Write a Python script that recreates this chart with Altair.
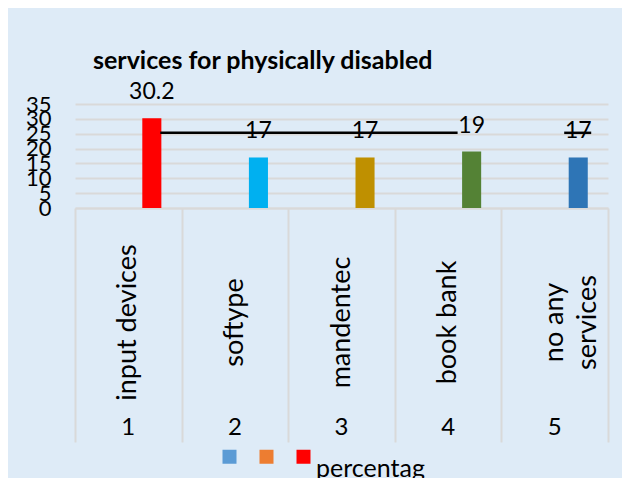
import json
import textwrap
import altair as alt
import pandas as pd

# ---- data ----
title_text = "services for physically disabled"
idx = ["1", "2", "3", "4", "5"]
names = ["input devices", "softype", "mandentec", "book bank", "no any services"]
values = [30.2, 17, 17, 19, 17]
bar_colors = ["#FF0000", "#00B0F0", "#BF9000", "#548235", "#2E75B6"]
series = ["Series1", "Series2", "percentag"]
series_colors = ["#5B9BD5", "#ED7D31", "#FF0000"]
y_ticks = [0, 5, 10, 15, 20, 25, 30, 35]
line_level = 25.3
seg1_from, seg1_to = ["1"], ["4"]
seg2_from, seg2_to = ["5"], ["5"]

FONT = "Lato"
GRID = "#D9D9D9"
BG = "#DEEBF7"

label_lines = [textwrap.wrap(n, 13) for n in names]
name_expr = f"{json.dumps(label_lines)}[indexof({json.dumps(idx)}, datum.value)]"

df = pd.DataFrame({"idx": idx, "name": names, "value": values, "series": series[-1]})
seg1 = pd.DataFrame({"a": seg1_from, "b": seg1_to, "v": [line_level]})
seg2 = pd.DataFrame({"a": seg2_from, "b": seg2_to, "v": [line_level]})
leg_df = pd.DataFrame({"series": series})

xscale = alt.Scale(domain=idx, paddingInner=0, paddingOuter=0)
yscale = alt.Scale(domain=[y_ticks[0], y_ticks[-1]], nice=False, zero=True)
xoff = alt.XOffset("series:N", scale=alt.Scale(domain=series, paddingInner=0.19, paddingOuter=0.86))

name_axis = alt.Axis(
    title=None, orient="bottom", labelAngle=270, labelAlign="center", labelBaseline="middle",
    labelPadding=114, labelExpr=name_expr, labelFont=FONT, labelFontSize=27, labelColor="black",
    labelLineHeight=33, ticks=False, domain=False, grid=False, labelOverlap=False, labelLimit=400,
)
num_axis = alt.Axis(
    title=None, orient="bottom", labelAngle=0, labelAlign="center", labelBaseline="top",
    labelPadding=207, labelFont=FONT, labelFontSize=24, labelColor="black",
    ticks=False, domain=False, grid=False, labelOverlap=False,
)
div_axis = alt.Axis(
    title=None, orient="bottom", labels=False, ticks=True, tickBand="extent", tickSize=234,
    tickColor=GRID, tickWidth=2, domain=True, domainColor=GRID, domainWidth=2, grid=False,
)
y_axis = alt.Axis(
    title=None, values=y_ticks, grid=True, gridColor=GRID, gridWidth=2,
    domain=False, ticks=False, labelPadding=24, labelFont=FONT, labelFontSize=22,
    labelColor="black", labelOverlap=False, labelFlush=False,
)

Y = lambda f: alt.Y(f, scale=yscale, axis=y_axis)

bars = alt.Chart(df).mark_bar().encode(
    x=alt.X("idx:N", scale=xscale, axis=name_axis, sort=idx),
    xOffset=xoff,
    y=Y("value:Q"),
    color=alt.Color("idx:N", scale=alt.Scale(domain=idx, range=bar_colors), legend=None),
)

labels = alt.Chart(df).mark_text(
    dy=-26, baseline="middle", font=FONT, fontSize=23, color="black"
).encode(
    x=alt.X("idx:N", scale=xscale, axis=num_axis, sort=idx),
    xOffset=xoff,
    y=Y("value:Q"),
    text=alt.Text("value:Q"),
)

rule1 = alt.Chart(seg1).mark_rule(color="black", strokeWidth=2.5, xOffset=32, x2Offset=9.5).encode(
    x=alt.X("a:N", scale=xscale, axis=div_axis, sort=idx),
    x2="b:N",
    y=Y("v:Q"),
)
rule2 = alt.Chart(seg2).mark_rule(color="black", strokeWidth=2.5, xOffset=9.5, x2Offset=36.5).encode(
    x=alt.X("a:N", scale=xscale, axis=None, sort=idx),
    x2="b:N",
    y=Y("v:Q"),
)

legend_layer = alt.Chart(leg_df).mark_square(opacity=0).encode(
    color=alt.Color(
        "series:N",
        scale=alt.Scale(domain=series, range=series_colors),
        legend=alt.Legend(
            title=None, orient="none", legendX=142, legendY=340, direction="horizontal",
            symbolType="square", symbolSize=196, symbolOpacity=1, symbolStrokeWidth=0,
            labelFont=FONT, labelFontSize=25, labelColor="black", labelBaseline="top",
            labelOffset=0, columnPadding=12, padding=0,
            labelExpr=f"datum.value == {json.dumps(series[-1])} ? datum.label : ''",
        ),
    )
)

chart = (
    alt.layer(bars, labels, rule1, rule2, legend_layer)
    .resolve_axis(x="independent")
    .resolve_scale(color="independent")
    .properties(
        width=533,
        height=104,
        autosize=alt.AutoSizeParams(type="none"),
        padding={"left": 67, "top": 96, "right": 14, "bottom": 270},
        title=alt.TitleParams(
            text=title_text, font=FONT, fontSize=25, fontWeight="bold", color="black",
            anchor="start", frame="group", dx=18, offset=7,
        ),
    )
    .configure(background=BG)
    .configure_view(stroke=None)
)

chart.save("out.html", embed_options={"renderer": "svg", "actions": False})
